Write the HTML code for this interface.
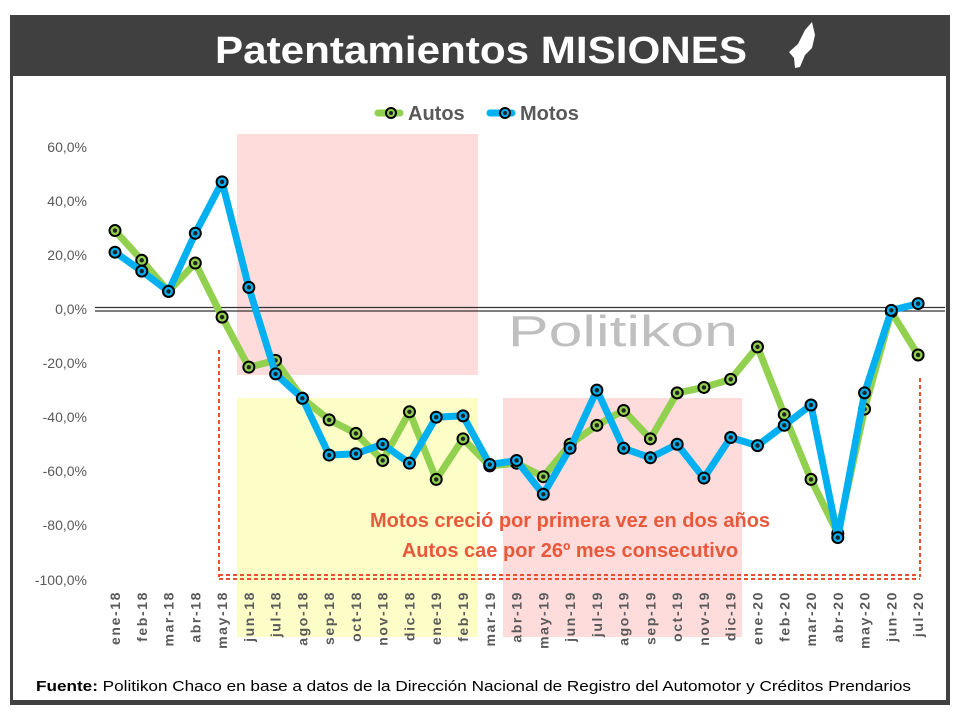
<!DOCTYPE html>
<html><head><meta charset="utf-8"><style>
body{margin:0;width:960px;height:720px;background:#fff;overflow:hidden}
</style></head><body>
<svg id="s" width="960" height="720" xmlns="http://www.w3.org/2000/svg" font-family="Liberation Sans, sans-serif">
<rect x="10" y="15" width="940" height="690" fill="#404040"/>
<rect x="13" y="76" width="933" height="624" fill="#fff"/>
<text x="215" y="63" textLength="532" lengthAdjust="spacingAndGlyphs" font-size="38" font-weight="bold" fill="#fff">Patentamientos MISIONES</text>
<path d="M805,30 L812,22 L815,35 L812,48 L805,55 L800,67 L795,68 L794,58 L789,52 L798,44 Z" fill="#fff"/>
<rect x="237" y="134" width="241" height="241" fill="#ffdcdc"/>
<rect x="237" y="398" width="241" height="239" fill="#fdfdc8"/>
<rect x="503" y="398" width="239" height="239" fill="#ffdcdc"/>
<text x="508" y="346" textLength="230" lengthAdjust="spacingAndGlyphs" font-size="44" fill="#b4b4b4" opacity="0.85">Politikon</text>
<line x1="95" y1="307.5" x2="945" y2="307.5" stroke="#333" stroke-width="1.2"/>
<line x1="95" y1="311" x2="945" y2="311" stroke="#333" stroke-width="1.2"/>
<g font-size="14" fill="#595959" text-anchor="end">
<text x="87" y="152">60,0%</text><text x="87" y="206">40,0%</text><text x="87" y="260">20,0%</text>
<text x="87" y="314">0,0%</text><text x="87" y="368">-20,0%</text><text x="87" y="422">-40,0%</text>
<text x="87" y="476">-60,0%</text><text x="87" y="530">-80,0%</text><text x="87" y="585">-100,0%</text>
</g>
<g stroke="#e8502f" stroke-width="2" stroke-dasharray="4,3" fill="none">
<line x1="219" y1="350" x2="219" y2="577"/>
<line x1="920" y1="378" x2="920" y2="577"/>
<line x1="219" y1="575" x2="920" y2="575"/>
<line x1="219" y1="579" x2="920" y2="579"/>
</g>
<g id="lines"></g>
<g id="xl" font-size="14" font-weight="bold" fill="#595959"></g>
<text x="570" y="527" text-anchor="middle" font-size="20" font-weight="bold" fill="#e8583a">Motos creció por primera vez en dos años</text>
<text x="570" y="557" text-anchor="middle" font-size="20" font-weight="bold" fill="#e8583a">Autos cae por 26º mes consecutivo</text>
<g>
<line x1="378" y1="113" x2="400" y2="113" stroke="#92d050" stroke-width="7" stroke-linecap="round"/>
<circle cx="391" cy="113" r="5" fill="#92d050" stroke="#000" stroke-width="2"/><circle cx="391" cy="113" r="2" fill="#222"/>
<text x="408" y="120" font-size="20" font-weight="bold" fill="#595959">Autos</text>
<line x1="490" y1="113" x2="512" y2="113" stroke="#00b0f0" stroke-width="7" stroke-linecap="round"/>
<circle cx="505" cy="113" r="5" fill="#00b0f0" stroke="#000" stroke-width="2"/><circle cx="505" cy="113" r="2" fill="#222"/>
<text x="520" y="120" font-size="20" font-weight="bold" fill="#595959">Motos</text>
</g>
<text x="36" y="691" textLength="875" lengthAdjust="spacingAndGlyphs" font-size="15" fill="#000"><tspan font-weight="bold">Fuente:</tspan> Politikon Chaco en base a datos de la Dirección Nacional de Registro del Automotor  y Créditos Prendarios</text>
</svg>
<script>
var NS="http://www.w3.org/2000/svg";
var autos=[29,18,6.5,17,-3,-21.5,-19,-33,-41,-46,-56,-38,-63,-48,-58,-57,-62,-50,-43,-37.5,-48,-31,-29,-26,-14,-39,-63,-83,-37,-1,-17];
var motos=[21,14,6.5,28,47,8,-24,-33,-54,-53.5,-50,-57,-40,-39.5,-57.5,-56,-68.5,-51.5,-30,-51.5,-55,-50,-62.5,-47.5,-50.5,-43,-35.5,-84.5,-31,-0.5,2];
var labs=["ene-18","feb-18","mar-18","abr-18","may-18","jun-18","jul-18","ago-18","sep-18","oct-18","nov-18","dic-18","ene-19","feb-19","mar-19","abr-19","may-19","jun-19","jul-19","ago-19","sep-19","oct-19","nov-19","dic-19","ene-20","feb-20","mar-20","abr-20","may-20","jun-20","jul-20"];
function X(i){return 115+i*26.77}function Y(v){return 309-v*2.705}
var g=document.getElementById("lines");
function draw(d,c){var p=d.map(function(v,i){return X(i).toFixed(1)+","+Y(v).toFixed(1)}).join(" ");
var pl=document.createElementNS(NS,"polyline");pl.setAttribute("points",p);pl.setAttribute("fill","none");pl.setAttribute("stroke",c);pl.setAttribute("stroke-width","7");pl.setAttribute("stroke-linejoin","round");g.appendChild(pl);
d.forEach(function(v,i){var a=document.createElementNS(NS,"circle");a.setAttribute("cx",X(i));a.setAttribute("cy",Y(v));a.setAttribute("r","5.5");a.setAttribute("fill",c);a.setAttribute("stroke","#000");a.setAttribute("stroke-width","2");g.appendChild(a);
var b=document.createElementNS(NS,"circle");b.setAttribute("cx",X(i));b.setAttribute("cy",Y(v));b.setAttribute("r","2.2");b.setAttribute("fill","#222");g.appendChild(b);});}
draw(autos,"#92d050");draw(motos,"#00b0f0");
var xl=document.getElementById("xl");
labs.forEach(function(l,i){var t=document.createElementNS(NS,"text");var x=X(i)+5,y=591;t.setAttribute("x",x);t.setAttribute("y",y);t.setAttribute("text-anchor","end");t.setAttribute("letter-spacing","1.6");t.setAttribute("transform","rotate(-90 "+x+" "+y+")");t.textContent=l;xl.appendChild(t);});
</script>
</body></html>
